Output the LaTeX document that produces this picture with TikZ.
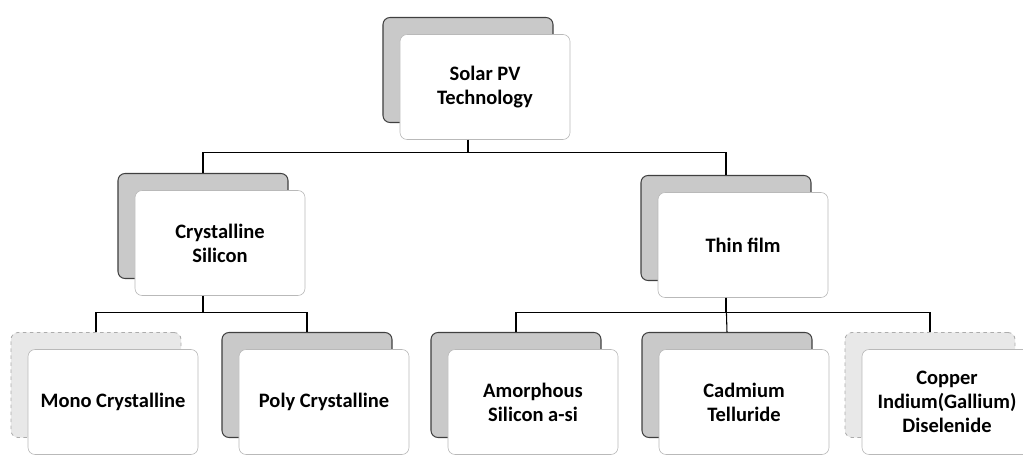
\documentclass[tikz,border=0pt]{standalone}
\usepackage{fontspec}
\setmainfont{Carlito}
\usetikzlibrary{shadows}

\begin{document}
\begin{tikzpicture}[
  x=0.03cm, y=-0.03cm,
  tile/.style={draw=gray!55, fill=white, line width=0.5pt, rounded corners=6pt,
    minimum width=5.1cm, minimum height=3.15cm, align=center, text=black,
    font=\fontsize{17.5}{20.5}\selectfont\bfseries},
  card/.style={tile, general shadow={fill=gray!42, draw=black!75, line width=0.9pt,
    shadow xshift=-0.51cm, shadow yshift=0.51cm}},
  palecard/.style={tile, general shadow={fill=gray!18, draw=gray!65, dashed, line width=0.7pt,
    shadow xshift=-0.51cm, shadow yshift=0.51cm}},
  link/.style={draw=black, line width=0.9pt}
]
\useasboundingbox (0,0) rectangle (1023,458);

% top
\node[card] (solar) at (485,87) {Solar PV\\Technology};

% second row
\node[card] (crystal) at (220,243) {Crystalline\\Silicon};
\node[card] (thin) at (743,245) {Thin film};

% third row
\node[palecard] (mono) at (113,402) {Mono Crystalline};
\node[card] (poly) at (324,402) {Poly Crystalline};
\node[card] (amorph) at (533,402) {Amorphous\\Silicon a-si};
\node[card] (cdte) at (744,402) {Cadmium\\Telluride};
\node[palecard] (cigs) at (947,402) {Copper\\Indium(Gallium)\\Diselenide};

% links
\draw[link] ([xshift=-0.51cm]solar.south) -- ++(0,-0.39cm) -| ([shift={(-0.51cm,0.51cm)}]crystal.north);
\draw[link] ([xshift=-0.51cm]solar.south) -- ++(0,-0.39cm) -| ([shift={(-0.51cm,0.51cm)}]thin.north);

\draw[link] ([xshift=-0.51cm]crystal.south) -- ++(0,-0.5cm) -| ([shift={(-0.51cm,0.51cm)}]mono.north);
\draw[link] ([xshift=-0.51cm]crystal.south) -- ++(0,-0.5cm) -| ([shift={(-0.51cm,0.51cm)}]poly.north);

\draw[link] ([xshift=-0.51cm]thin.south) -- ++(0,-0.45cm) -| ([shift={(-0.51cm,0.51cm)}]amorph.north);
\draw[link] ([xshift=-0.51cm]thin.south) -- ([shift={(-0.51cm,0.51cm)}]cdte.north);
\draw[link] ([xshift=-0.51cm]thin.south) -- ++(0,-0.45cm) -| ([shift={(-0.51cm,0.51cm)}]cigs.north);

\end{tikzpicture}
\end{document}
